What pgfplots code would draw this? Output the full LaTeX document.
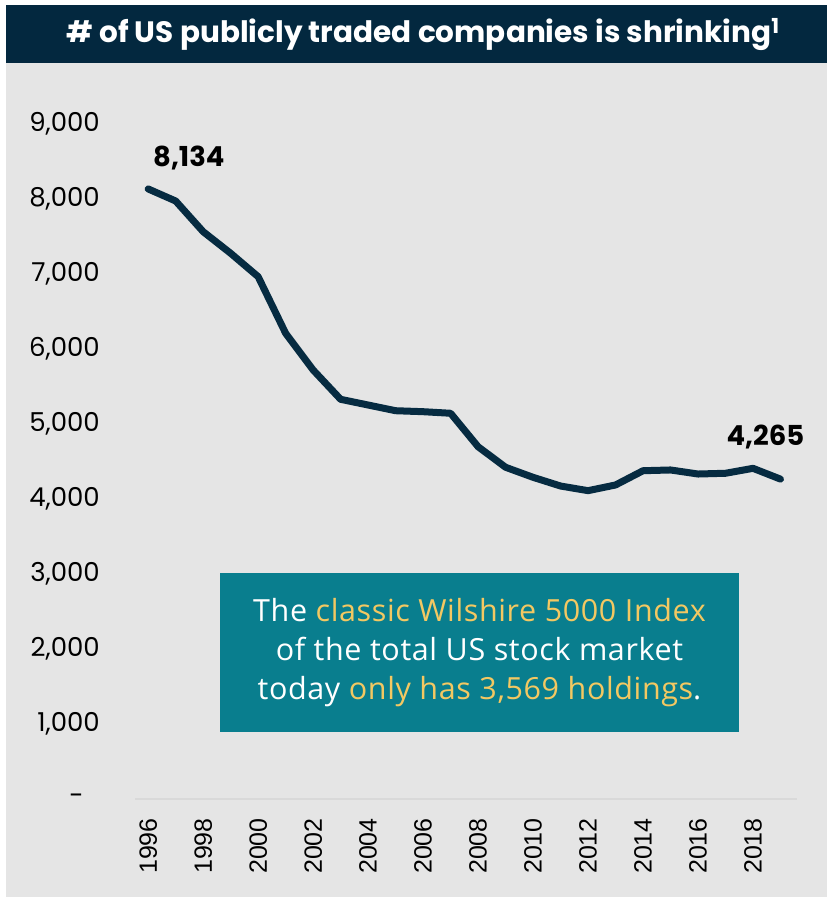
\documentclass[border=0pt]{standalone}
\usepackage{fontspec}
\setmainfont{Poppins}
\newfontfamily\boxfont[LetterSpace=2]{Open Sans}
\newfontfamily\xfont{Liberation Sans}
\usepackage{pgfplots}
\pgfplotsset{compat=1.18}
\definecolor{navy}{HTML}{03283F}
\definecolor{linecol}{HTML}{062B41}
\definecolor{bggray}{HTML}{E5E5E5}
\definecolor{teal2}{HTML}{097E8E}
\definecolor{gold}{HTML}{F3C862}
\definecolor{axisgray}{HTML}{D9D9D9}
\begin{document}
\begin{tikzpicture}[x=1pt,y=1pt]
\fill[white] (0,0) rectangle (827,900);
\fill[bggray] (6,3) rectangle (827,895);
\fill[navy] (6,837) rectangle (827,895);
\node[white, font=\fontsize{29.5}{33}\selectfont\bfseries] at (423,865) {\# of US publicly traded companies is shrinking\textsuperscript{1}};
\begin{axis}[
  at={(135pt,101pt)}, anchor=south west,
  scale only axis, width=662pt, height=675pt,
  xmin=1995.52, xmax=2019.6, ymin=0, ymax=9000,
  axis lines*=left,
  x axis line style={axisgray, line width=1.2pt},
  y axis line style={draw=none},
  major tick length=0pt,
  xtick={1996,1998,...,2018},
  xticklabels={1996,1998,2000,2002,2004,2006,2008,2010,2012,2014,2016,2018},
  ytick={0,1000,...,9000},
  yticklabels={{-\kern16pt\null},{1,000},{2,000},{3,000},{4,000},{5,000},{6,000},{7,000},{8,000},{9,000}},
  yticklabel style={font=\fontsize{26}{29}\selectfont, anchor=east, inner sep=0pt, xshift=-35pt},
  xticklabel style={font=\xfont\fontsize{25}{28}\selectfont, yshift=-19pt, rotate=90, anchor=east, inner sep=0pt},
  clip=false,
]
\addplot[linecol, line width=7pt, line join=round, line cap=round] coordinates {
(1996,8134) (1997,7973) (1998,7564) (1999,7276) (2000,6964) (2001,6209)
(2002,5720) (2003,5329) (2004,5253) (2005,5177) (2006,5164) (2007,5143)
(2008,4697) (2009,4423) (2010,4289) (2011,4173) (2012,4111) (2013,4187)
(2014,4377) (2015,4387) (2016,4333) (2017,4343) (2018,4409) (2019,4265)};
\node[font=\fontsize{27.5}{30}\selectfont\bfseries] at (axis cs:1997.48,8547) {8,134};
\node[font=\fontsize{27.5}{30}\selectfont\bfseries] at (axis cs:2018.45,4827) {4,265};
\end{axis}
\fill[teal2] (220,168) rectangle (739,327);
\node[align=center, text=white, font=\boxfont\fontsize{30.5}{39}\selectfont] at (479.5,247) {The \textcolor{gold}{classic Wilshire 5000 Index}\\ of the total US stock market\\ today \textcolor{gold}{only has 3,569 holdings}.};
\pgfresetboundingbox
\path[use as bounding box] (0,0) rectangle (827,900);
\end{tikzpicture}
\end{document}
